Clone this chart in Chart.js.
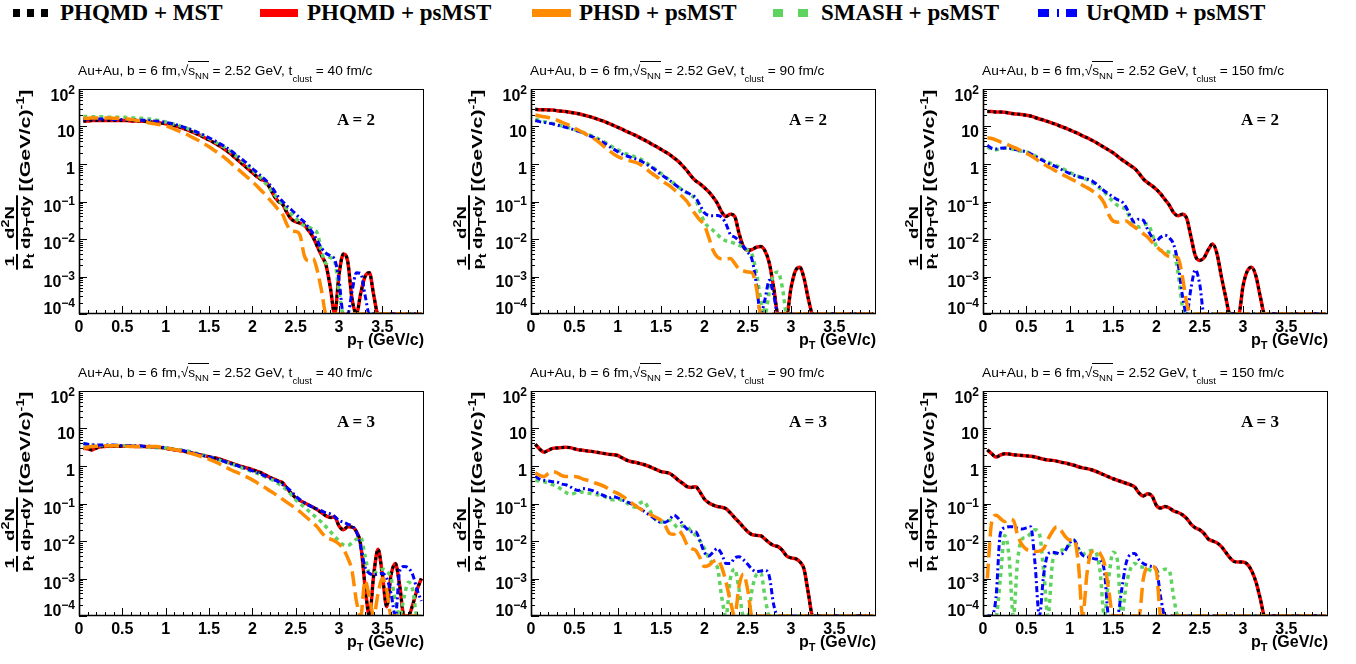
<!DOCTYPE html>
<html>
<head>
<meta charset="utf-8">
<title>Light nuclei pT spectra</title>
<script src="https://cdn.jsdelivr.net/npm/chart.js@4.4.0/dist/chart.umd.min.js"></script>
<style>
  body { margin: 0; width: 1356px; height: 664px; background: #fff; position: relative; overflow: hidden; color: #000; }
  canvas { position: absolute; }
  .mk { position: absolute; top: 9px; height: 8px; }
  .lt { position: absolute; top: 1px; font: bold 23px/23px "Liberation Serif", "Times New Roman", serif; white-space: nowrap; }
  .title { position: absolute; font: 13.7px/13px "Liberation Sans", Arial, sans-serif; white-space: nowrap; }
  .title sub { font-size: 9.5px; line-height: 0; }
  .title .nn { vertical-align: -4px; }
  .title .cl { vertical-align: -7px; }
  .title .ov { border-top: 1px solid #000; padding-top: 1px; }
  .alabel { position: absolute; font: bold 17px/17px "Liberation Serif", "Times New Roman", serif; white-space: nowrap; }
  .xtitle { position: absolute; font: bold 16px/16px "Liberation Sans", Arial, sans-serif; white-space: nowrap; text-align: right; }
  .xtitle sub { font-size: 11px; line-height: 0; vertical-align: -4px; }
  .ytitle { position: absolute; width: 157px; height: 40px; display: flex; justify-content: flex-end; align-items: center;
            transform-origin: 0 0; transform: rotate(-90deg) scaleX(1.43); font: bold 15px/15px "Liberation Sans", Arial, sans-serif; white-space: nowrap; }
  .ytitle sub, .ytitle sup { font-size: 10px; line-height: 0; }
  .frac { display: inline-flex; flex-direction: column; align-items: center; margin-right: 3px; font-size: 13px; line-height: 13px; }
  .frac .den { border-top: 2px solid #000; padding-top: 1px; }
  .unit { position: relative; top: 7px; }
</style>
</head>
<body>
<div id="legend">
  <div class="mk" style="left:13px;width:35px;background:repeating-linear-gradient(90deg,#000 0 7px,transparent 7px 14px)"></div>
  <div class="lt" style="left:60px">PHQMD + MST</div>
  <div class="mk" style="left:260px;width:38px;background:#ff0000"></div>
  <div class="lt" style="left:307px">PHQMD + psMST</div>
  <div class="mk" style="left:532px;width:39px;background:#ff8c00"></div>
  <div class="lt" style="left:579px">PHSD + psMST</div>
  <div class="mk" style="left:773px;width:35px;background:repeating-linear-gradient(90deg,#5fd35f 0 10px,transparent 10px 25px)"></div>
  <div class="lt" style="left:821px">SMASH + psMST</div>
  <div class="mk" style="left:1038px;width:39px;background:linear-gradient(90deg,#0000ff 0 11px,transparent 11px 19px,#0000ff 19px 21px,transparent 21px 28px,#0000ff 28px 39px)"></div>
  <div class="lt" style="left:1086px">UrQMD + psMST</div>
</div>
<script>
// pT bin centres in GeV/c
const pt = [
  0.05,0.1,0.15,0.2,0.25,0.3,0.35,0.4,0.45,0.5,
  0.55,0.6,0.65,0.7,0.75,0.8,0.85,0.9,0.95,1.0,
  1.05,1.1,1.15,1.2,1.25,1.3,1.35,1.4,1.45,1.5,
  1.55,1.6,1.65,1.7,1.75,1.8,1.85,1.9,1.95,2.0,
  2.05,2.1,2.15,2.2,2.25,2.3,2.35,2.4,2.45,2.5,
  2.55,2.6,2.65,2.7,2.75,2.8,2.85,2.9,2.95,3.0,
  3.05,3.1,3.15,3.2,3.25,3.3,3.35,3.4,3.45,3.5,
  3.55,3.6,3.65,3.7,3.75,3.8,3.85,3.9,3.95
];

// log10 of 1/pt d2N/dpT dy per bin; null = empty bin
// A = 2, t_clust = 40 fm/c
const lgPhqmdA2t40 = [
  1.15,1.15,1.16,1.16,1.16,1.16,1.16,1.16,1.16,1.16,
  1.16,1.15,1.15,1.14,1.14,1.13,1.12,1.11,1.09,1.07,
  1.05,1.02,0.99,0.95,0.91,0.86,0.81,0.76,0.70,0.64,
  0.58,0.51,0.44,0.36,0.27,0.17,0.07,-0.03,-0.13,-0.23,
  -0.33,-0.41,-0.46,-0.63,-0.85,-1.0,-1.08,-1.3,-1.47,-1.54,
  -1.58,-1.63,-1.78,-1.95,-2.2,-2.45,-2.7,-3.3,null,-2.95,
  -2.4,-2.6,-3.6,null,-3.45,-3.0,-2.9,-3.5,null,null,
  null,null,null,null,null,null,null,null,null
];
const lgSmashA2t40 = [
  1.27,1.27,1.26,1.26,1.26,1.26,1.25,1.25,1.25,1.25,
  1.24,1.23,1.23,1.22,1.21,1.2,1.19,1.17,1.15,1.12,
  1.09,1.06,1.03,0.99,0.95,0.9,0.85,0.8,0.74,0.68,
  0.62,0.55,0.48,0.41,0.33,0.24,0.15,0.05,-0.05,-0.15,
  -0.26,-0.38,-0.51,-0.65,-0.8,-0.95,-1.08,-1.2,-1.33,-1.45,
  -1.55,-1.65,-1.68,-1.75,-1.85,-2.35,-2.65,-2.5,-2.6,-3.4,
  null,null,null,null,null,null,null,null,null,null,
  null,null,null,null,null,null,null,null,null
];
const lgUrqmdA2t40 = [
  1.2,1.2,1.2,1.2,1.2,1.2,1.2,1.19,1.19,1.19,
  1.19,1.18,1.18,1.17,1.17,1.16,1.15,1.14,1.13,1.11,
  1.09,1.06,1.03,0.99,0.95,0.91,0.86,0.81,0.76,0.7,
  0.64,0.58,0.51,0.44,0.36,0.27,0.18,0.09,-0.01,-0.12,
  -0.22,-0.32,-0.42,-0.55,-0.7,-0.88,-1.0,-1.12,-1.22,-1.33,
  -1.45,-1.55,-1.7,-1.85,-2.05,-2.25,-2.38,-2.45,-2.55,-3.1,
  null,null,-3.4,-2.9,-2.92,-3.5,null,null,null,null,
  null,null,null,null,null,null,null,null,null
];
const lgPhsdA2t40 = [
  1.22,1.22,1.23,1.23,1.23,1.23,1.23,1.22,1.22,1.21,
  1.2,1.19,1.17,1.15,1.13,1.1,1.08,1.06,1.04,1.02,
  0.98,0.93,0.88,0.83,0.78,0.72,0.66,0.6,0.53,0.46,
  0.38,0.3,0.22,0.13,0.03,-0.08,-0.17,-0.27,-0.37,-0.47,
  -0.58,-0.7,-0.82,-0.95,-1.08,-1.22,-1.35,-1.62,-1.78,-1.8,
  -1.9,-2.45,-2.58,-2.52,-2.85,-3.4,null,null,null,null,
  null,null,null,null,null,null,null,null,null,null,
  null,null,null,null,null,null,null,null,null
];

// A = 2, t_clust = 90 fm/c
const lgPhqmdA2t90 = [
  1.46,1.45,1.45,1.44,1.44,1.42,1.41,1.4,1.38,1.36,
  1.34,1.31,1.28,1.25,1.21,1.17,1.13,1.08,1.03,0.98,
  0.93,0.87,0.82,0.77,0.71,0.65,0.59,0.52,0.46,0.39,
  0.32,0.25,0.16,0.07,-0.05,-0.18,-0.33,-0.45,-0.53,-0.63,
  -0.74,-0.88,-1.05,-1.28,-1.4,-1.34,-1.4,-1.85,-2.2,-2.3,
  -2.28,-2.22,-2.2,-2.32,-2.65,-3.3,null,null,null,-3.3,
  -2.85,-2.75,-3.05,-3.6,null,null,null,null,null,null,
  null,null,null,null,null,null,null,null,null
];
const lgSmashA2t90 = [
  1.2,1.16,1.13,1.11,1.08,1.05,1.02,0.99,0.96,0.92,
  0.88,0.84,0.8,0.75,0.7,0.64,0.58,0.51,0.44,0.38,
  0.32,0.27,0.23,0.19,0.15,0.08,0.0,-0.08,-0.16,-0.25,
  -0.34,-0.43,-0.52,-0.61,-0.7,-0.77,-0.84,-0.95,-1.25,-1.55,
  -1.68,-1.77,-1.88,-1.99,-2.05,-2.08,-2.12,-2.17,-2.22,-2.3,
  -2.42,-2.9,-3.6,null,-3.4,-2.95,-2.88,-3.3,null,null,
  null,null,null,null,null,null,null,null,null,null,
  null,null,null,null,null,null,null,null,null
];
const lgUrqmdA2t90 = [
  1.16,1.13,1.11,1.09,1.07,1.04,1.01,0.98,0.95,0.91,
  0.87,0.83,0.78,0.73,0.68,0.62,0.55,0.47,0.4,0.33,
  0.27,0.22,0.18,0.14,0.1,0.04,-0.03,-0.1,-0.19,-0.28,
  -0.36,-0.44,-0.53,-0.62,-0.7,-0.76,-0.82,-0.9,-1.1,-1.3,
  -1.37,-1.38,-1.37,-1.42,-1.6,-1.88,-1.95,-2.05,-2.2,-2.35,
  -2.55,-3.2,null,-3.6,-3.1,-3.5,null,null,null,null,
  null,null,null,null,null,null,null,null,null,null,
  null,null,null,null,null,null,null,null,null
];
const lgPhsdA2t90 = [
  1.31,1.28,1.26,1.24,1.21,1.17,1.12,1.07,1.02,0.96,
  0.9,0.84,0.77,0.71,0.64,0.55,0.45,0.36,0.27,0.2,
  0.15,0.11,0.08,0.05,0.0,-0.08,-0.17,-0.26,-0.34,-0.43,
  -0.51,-0.58,-0.68,-0.78,-0.88,-1.0,-1.18,-1.35,-1.5,-1.63,
  -1.95,-2.3,-2.48,-2.53,-2.53,-2.52,-2.65,-2.8,-2.85,-2.88,
  -2.9,-3.3,null,null,null,null,null,null,null,null,
  null,null,null,null,null,null,null,null,null,null,
  null,null,null,null,null,null,null,null,null
];

// A = 2, t_clust = 150 fm/c
const lgPhqmdA2t150 = [
  1.4,1.4,1.39,1.39,1.38,1.36,1.34,1.33,1.32,1.3,
  1.28,1.24,1.2,1.17,1.13,1.09,1.05,1.0,0.96,0.91,
  0.86,0.81,0.75,0.7,0.64,0.58,0.51,0.44,0.37,0.3,
  0.21,0.12,0.04,-0.04,-0.12,-0.25,-0.4,-0.5,-0.58,-0.68,
  -0.8,-0.95,-1.1,-1.3,-1.38,-1.34,-1.45,-1.95,-2.45,-2.57,
  -2.5,-2.28,-2.13,-2.4,-3.0,-3.55,null,null,null,-3.25,
  -2.85,-2.75,-3.0,-3.55,null,null,null,null,null,null,
  null,null,null,null,null,null,null,null,null
];
const lgSmashA2t150 = [
  0.45,0.4,0.38,0.4,0.42,0.41,0.39,0.36,0.34,0.32,
  0.28,0.22,0.16,0.1,0.05,0.0,-0.05,-0.1,-0.16,-0.22,
  -0.28,-0.33,-0.37,-0.42,-0.48,-0.56,-0.65,-0.75,-0.88,-1.0,
  -1.1,-1.15,-1.22,-1.45,-1.6,-1.68,-1.62,-1.6,-1.85,-2.2,
  -2.3,-2.32,-2.35,-2.4,-2.9,-3.8,null,null,null,null,
  null,null,null,null,null,null,null,null,null,null,
  null,null,null,null,null,null,null,null,null,null,
  null,null,null,null,null,null,null,null,null
];
const lgUrqmdA2t150 = [
  0.5,0.42,0.4,0.42,0.43,0.42,0.4,0.37,0.35,0.32,
  0.27,0.21,0.14,0.08,0.02,-0.03,-0.08,-0.14,-0.2,-0.25,
  -0.3,-0.34,-0.37,-0.4,-0.44,-0.52,-0.62,-0.72,-0.8,-0.88,
  -0.95,-1.0,-1.15,-1.4,-1.55,-1.47,-1.5,-1.75,-1.95,-2.05,
  -1.95,-1.9,-1.97,-2.15,-2.65,-3.5,null,-3.3,-2.82,-3.2,
  null,null,null,null,null,null,null,null,null,null,
  null,null,null,null,null,null,null,null,null,null,
  null,null,null,null,null,null,null,null,null
];
const lgPhsdA2t150 = [
  0.7,0.68,0.64,0.59,0.55,0.5,0.45,0.4,0.34,0.29,
  0.22,0.15,0.07,0.0,-0.07,-0.13,-0.2,-0.26,-0.32,-0.38,
  -0.44,-0.5,-0.57,-0.63,-0.7,-0.78,-0.88,-1.05,-1.35,-1.52,
  -1.55,-1.53,-1.52,-1.6,-1.68,-1.77,-1.86,-1.95,-2.08,-2.2,
  -2.3,-2.4,-2.47,-2.48,-2.5,-3.0,-3.7,null,null,null,
  null,null,null,null,null,null,null,null,null,null,
  null,null,null,null,null,null,null,null,null,null,
  null,null,null,null,null,null,null,null,null
];

// A = 3, t_clust = 40 fm/c
const lgPhqmdA3t40 = [
  0.47,0.46,0.43,0.48,0.51,0.52,0.53,0.53,0.53,0.53,
  0.53,0.53,0.52,0.52,0.52,0.51,0.51,0.5,0.49,0.47,
  0.45,0.43,0.41,0.4,0.37,0.35,0.32,0.3,0.27,0.25,
  0.22,0.2,0.16,0.12,0.08,0.04,0.0,-0.03,-0.06,-0.1,
  -0.14,-0.18,-0.24,-0.3,-0.35,-0.4,-0.45,-0.6,-0.73,-0.85,
  -0.92,-0.98,-1.04,-1.1,-1.17,-1.25,-1.33,-1.37,-1.36,-1.6,
  -1.7,-1.62,-1.63,-1.75,-2.1,-3.2,null,-2.9,-2.22,-2.9,
  -3.75,-2.9,-2.6,-3.2,null,null,-3.7,-3.3,-3.0
];
const lgSmashA3t40 = [
  0.6,0.57,0.55,0.55,0.55,0.55,0.55,0.55,0.55,0.54,
  0.54,0.53,0.53,0.52,0.52,0.5,0.5,0.49,0.49,0.48,
  0.47,0.45,0.44,0.42,0.4,0.37,0.34,0.31,0.28,0.24,
  0.21,0.17,0.14,0.1,0.06,0.02,-0.03,-0.07,-0.11,-0.15,
  -0.19,-0.24,-0.29,-0.34,-0.4,-0.47,-0.55,-0.65,-0.77,-0.9,
  -1.0,-1.1,-1.2,-1.3,-1.4,-1.5,-1.62,-1.75,-1.88,-2.0,
  -2.1,-2.12,-2.05,-1.95,-1.9,-2.4,-2.85,-2.85,-2.8,-2.75,
  -2.8,-3.0,-3.6,null,-3.5,-3.1,-3.3,null,null
];
const lgUrqmdA3t40 = [
  0.6,0.58,0.57,0.56,0.56,0.56,0.56,0.56,0.55,0.55,
  0.55,0.55,0.54,0.54,0.53,0.53,0.52,0.51,0.5,0.49,
  0.47,0.45,0.43,0.41,0.39,0.36,0.33,0.3,0.27,0.24,
  0.21,0.18,0.14,0.1,0.06,0.03,-0.01,-0.05,-0.09,-0.13,
  -0.17,-0.22,-0.27,-0.32,-0.37,-0.42,-0.5,-0.58,-0.68,-0.8,
  -0.9,-0.98,-1.05,-1.1,-1.15,-1.2,-1.25,-1.28,-1.35,-1.45,
  -1.5,-1.55,-1.6,-1.75,-2.15,-2.7,-2.86,-2.9,-2.88,-2.86,
  -3.0,-3.4,null,-2.8,-2.68,-2.72,-2.9,-3.3,-3.6
];
const lgPhsdA3t40 = [
  0.47,0.5,0.52,0.53,0.53,0.54,0.54,0.54,0.54,0.53,
  0.53,0.52,0.52,0.52,0.52,0.52,0.52,0.52,0.5,0.48,
  0.46,0.44,0.42,0.39,0.36,0.33,0.3,0.26,0.22,0.18,
  0.13,0.08,0.02,-0.04,-0.1,-0.15,-0.2,-0.26,-0.31,-0.37,
  -0.44,-0.51,-0.58,-0.66,-0.73,-0.81,-0.89,-0.97,-1.05,-1.13,
  -1.22,-1.32,-1.42,-1.52,-1.63,-1.78,-1.9,-1.95,-2.0,-2.08,
  -2.22,-2.45,-2.8,-3.6,null,-3.05,-3.5,null,-3.4,-3.0,
  -3.3,null,null,null,null,null,null,null,null
];

// A = 3, t_clust = 90 fm/c
const lgPhqmdA3t90 = [
  0.58,0.45,0.37,0.42,0.47,0.48,0.49,0.5,0.49,0.46,
  0.43,0.42,0.4,0.39,0.37,0.35,0.33,0.31,0.3,0.28,
  0.22,0.16,0.12,0.1,0.07,0.04,0.0,-0.05,-0.1,-0.15,
  -0.17,-0.2,-0.28,-0.38,-0.46,-0.55,-0.57,-0.55,-0.7,-0.88,
  -0.98,-1.04,-1.08,-1.1,-1.14,-1.25,-1.38,-1.5,-1.63,-1.75,
  -1.83,-1.85,-1.86,-1.95,-2.05,-2.12,-2.15,-2.25,-2.4,-2.45,
  -2.47,-2.55,-2.75,-3.4,null,null,null,null,null,null,
  null,null,null,null,null,null,null,null,null
];
const lgSmashA3t90 = [
  -0.38,-0.4,-0.42,-0.45,-0.5,-0.55,-0.62,-0.7,-0.75,-0.73,
  -0.68,-0.7,-0.72,-0.74,-0.76,-0.78,-0.82,-0.88,-0.9,-0.88,
  -0.92,-0.98,-1.05,-1.1,-1.0,-0.95,-1.1,-1.3,-1.45,-1.5,
  -1.45,-1.45,-1.55,-1.65,-1.6,-1.62,-1.75,-1.85,-2.0,-2.2,
  -2.45,-2.6,-2.7,-3.5,null,-3.0,-2.75,-3.3,null,null,
  -3.3,-2.9,-2.85,-3.5,null,null,null,null,null,null,
  null,null,null,null,null,null,null,null,null,null,
  null,null,null,null,null,null,null,null,null
];
const lgUrqmdA3t90 = [
  -0.27,-0.35,-0.38,-0.4,-0.42,-0.43,-0.48,-0.5,-0.55,-0.62,
  -0.65,-0.6,-0.62,-0.65,-0.7,-0.75,-0.8,-0.85,-0.82,-0.85,
  -0.9,-0.95,-1.0,-1.05,-1.12,-1.2,-1.28,-1.36,-1.45,-1.5,
  -1.5,-1.42,-1.31,-1.4,-1.55,-1.68,-1.75,-1.75,-2.0,-2.3,
  -2.4,-2.3,-2.2,-2.35,-2.6,-2.6,-2.45,-2.42,-2.5,-2.62,
  -2.75,-2.82,-2.8,-2.78,-2.95,-3.7,null,null,null,null,
  null,null,null,null,null,null,null,null,null,null,
  null,null,null,null,null,null,null,null,null
];
const lgPhsdA3t90 = [
  -0.18,-0.25,-0.28,-0.2,-0.15,-0.18,-0.25,-0.28,-0.28,-0.28,
  -0.3,-0.35,-0.38,-0.42,-0.46,-0.5,-0.55,-0.62,-0.68,-0.73,
  -0.8,-0.88,-0.97,-1.05,-1.13,-1.2,-1.26,-1.32,-1.38,-1.45,
  -1.6,-1.8,-1.82,-1.72,-1.85,-2.1,-2.2,-2.25,-2.45,-2.68,
  -2.65,-2.55,-2.5,-2.7,-3.1,-3.6,null,-3.2,-2.88,-3.3,
  null,null,null,null,null,null,null,null,null,null,
  null,null,null,null,null,null,null,null,null,null,
  null,null,null,null,null,null,null,null,null
];

// A = 3, t_clust = 150 fm/c
const lgPhqmdA3t150 = [
  0.43,0.33,0.24,0.29,0.33,0.32,0.3,0.29,0.28,0.27,
  0.26,0.24,0.21,0.18,0.16,0.15,0.13,0.1,0.08,0.05,
  0.02,-0.02,-0.05,-0.07,-0.1,-0.14,-0.19,-0.24,-0.29,-0.34,
  -0.38,-0.42,-0.46,-0.5,-0.56,-0.72,-0.8,-0.74,-0.8,-1.05,
  -1.12,-1.08,-1.12,-1.2,-1.24,-1.3,-1.4,-1.55,-1.65,-1.7,
  -1.8,-1.95,-2.0,-2.05,-2.15,-2.3,-2.45,-2.55,-2.56,-2.56,
  -2.62,-2.8,-3.1,-3.55,null,null,null,null,null,null,
  null,null,null,null,null,null,null,null,null
];
const lgSmashA3t150 = [
  null,null,null,-3.0,-1.85,-2.4,null,-2.5,-1.95,-1.9,
  -1.8,-1.7,-1.8,-2.8,null,-2.6,-2.3,-2.25,-2.2,-2.1,
  -2.0,-2.2,-2.35,-2.3,-2.25,-2.3,-2.8,null,-3.0,-2.3,
  -2.5,null,-3.2,-2.75,-2.6,-2.68,-2.7,-2.75,-2.8,-2.82,
  -2.8,-2.75,-2.8,-3.5,null,null,null,null,null,null,
  null,null,null,null,null,null,null,null,null,null,
  null,null,null,null,null,null,null,null,null,null,
  null,null,null,null,null,null,null,null,null
];
const lgUrqmdA3t150 = [
  null,null,-3.5,-1.8,-1.65,-1.62,-1.62,-1.66,-1.68,-1.65,
  -1.62,-2.6,null,-2.9,-2.35,-2.3,-2.32,-2.35,-2.25,-2.05,
  -1.97,-2.2,-2.38,-2.42,-2.45,-2.48,-2.5,-2.8,null,null,
  null,-3.3,-2.6,-2.36,-2.33,-2.5,-2.6,-2.65,-2.68,-2.75,
  -3.5,null,null,null,null,null,null,null,null,null,
  null,null,null,null,null,null,null,null,null,null,
  null,null,null,null,null,null,null,null,null,null,
  null,null,null,null,null,null,null,null,null
];
const lgPhsdA3t150 = [
  -3.0,-1.5,-1.31,-1.4,-1.48,-1.42,-1.45,-1.85,-2.1,-2.22,
  -2.26,-2.28,-2.27,-2.2,-1.95,-1.75,-1.62,-1.72,-1.88,-1.97,
  -1.96,-2.6,null,-2.86,-2.3,-2.26,-2.33,-2.6,-3.3,null,
  null,null,null,null,null,null,-3.0,-2.7,-2.68,-2.8,
  null,null,null,null,null,null,null,null,null,null,
  null,null,null,null,null,null,null,null,null,null,
  null,null,null,null,null,null,null,null,null,null,
  null,null,null,null,null,null,null,null,null
];

const yDecades = [-4, -3, -2, -1, 0, 1, 2];
const yMin = 1e-4, yMax = 1e2;
const xMin = 0, xMax = 3.98;

const panels = [
  { col: 0, row: 0, A: 2, tclust: 40,  phqmd: lgPhqmdA2t40,  phsd: lgPhsdA2t40,  smash: lgSmashA2t40,  urqmd: lgUrqmdA2t40 },
  { col: 1, row: 0, A: 2, tclust: 90,  phqmd: lgPhqmdA2t90,  phsd: lgPhsdA2t90,  smash: lgSmashA2t90,  urqmd: lgUrqmdA2t90 },
  { col: 2, row: 0, A: 2, tclust: 150, phqmd: lgPhqmdA2t150, phsd: lgPhsdA2t150, smash: lgSmashA2t150, urqmd: lgUrqmdA2t150 },
  { col: 0, row: 1, A: 3, tclust: 40,  phqmd: lgPhqmdA3t40,  phsd: lgPhsdA3t40,  smash: lgSmashA3t40,  urqmd: lgUrqmdA3t40 },
  { col: 1, row: 1, A: 3, tclust: 90,  phqmd: lgPhqmdA3t90,  phsd: lgPhsdA3t90,  smash: lgSmashA3t90,  urqmd: lgUrqmdA3t90 },
  { col: 2, row: 1, A: 3, tclust: 150, phqmd: lgPhqmdA3t150, phsd: lgPhsdA3t150, smash: lgSmashA3t150, urqmd: lgUrqmdA3t150 }
];

// frame geometry (page pixels)
const colLeft = [79, 531, 983];
const rowTop = [89, 391];
const plotW = 345, plotH = 225;
const padTop = 10, padRight = 10, axisW = 79, axisH = 40;

const SANS = '"Liberation Sans", Arial, sans-serif';

function points(lg) {
  return pt.map((x, i) => ({ x, y: lg[i] === null ? yMin : Math.pow(10, lg[i]) }));
}

// ROOT-like frame: box, inward ticks, 10^n labels
const rootFrame = {
  id: 'rootFrame',
  afterDraw(chart) {
    const { ctx, chartArea: a } = chart;
    const xs = chart.scales.x, ys = chart.scales.y;
    ctx.save();
    ctx.strokeStyle = '#000';
    ctx.lineWidth = 1;
    ctx.strokeRect(a.left + 0.5, a.top + 0.5, a.right - a.left - 1, a.bottom - a.top - 1);
    ctx.lineWidth = 1.6;
    ctx.beginPath();
    ctx.moveTo(a.left + 0.5, a.top);
    ctx.lineTo(a.left + 0.5, a.bottom - 0.5);
    ctx.lineTo(a.right, a.bottom - 0.5);
    ctx.stroke();

    ctx.lineWidth = 1;
    ctx.beginPath();
    for (let i = 0; i <= 39; i++) {
      const px = Math.round(xs.getPixelForValue(i / 10)) + 0.5;
      const len = i % 5 === 0 ? 8 : 4;
      ctx.moveTo(px, a.bottom);
      ctx.lineTo(px, a.bottom - len);
    }
    for (let e = -4; e <= 2; e++) {
      for (let m = 1; m <= 9; m++) {
        if (e === 2 && m > 1) break;
        const py = Math.round(ys.getPixelForValue(m * Math.pow(10, e))) + 0.5;
        const len = m === 1 ? 8 : 4;
        ctx.moveTo(a.left, py);
        ctx.lineTo(a.left + len, py);
      }
    }
    ctx.stroke();

    ctx.fillStyle = '#000';
    ctx.textBaseline = 'alphabetic';
    ctx.textAlign = 'left';
    const right = a.left - 4;
    yDecades.forEach(e => {
      const main = e === 0 ? '1' : '10';
      const sup = (e === 0 || e === 1) ? '' : (e < 0 ? '\u2212' + (-e) : String(e));
      const tick = ys.getPixelForValue(Math.pow(10, e));
      let base = tick + 10;
      base = Math.max(base, a.top + 11.5);
      base = Math.min(base, a.bottom);
      ctx.font = 'bold 12px ' + SANS;
      const ws = sup ? ctx.measureText(sup).width : 0;
      ctx.font = 'bold 16px ' + SANS;
      const wm = ctx.measureText(main).width;
      ctx.fillText(main, right - ws - wm, base);
      if (sup) {
        ctx.font = 'bold 12px ' + SANS;
        ctx.fillText(sup, right - ws, base - 7);
      }
    });
    ctx.restore();
  }
};

function place(html, cls, left, top) {
  const d = document.createElement('div');
  d.className = cls;
  d.innerHTML = html;
  d.style.left = left + 'px';
  d.style.top = top + 'px';
  document.body.appendChild(d);
  return d;
}

panels.forEach(p => {
  const L = colLeft[p.col], T = rowTop[p.row];

  const cv = document.createElement('canvas');
  cv.width = axisW + plotW + padRight;
  cv.height = padTop + plotH + axisH;
  cv.style.left = (L - axisW) + 'px';
  cv.style.top = (T - padTop) + 'px';
  document.body.appendChild(cv);

  new Chart(cv, {
    type: 'line',
    data: {
      datasets: [
        { label: 'PHSD + psMST', data: points(p.phsd), borderColor: '#ff8c00', borderDash: [15, 6], borderWidth: 3.5, order: 0 },
        { label: 'UrQMD + psMST', data: points(p.urqmd), borderColor: '#0000ff', borderDash: [6, 3, 2, 3], borderWidth: 3, order: 1 },
        { label: 'SMASH + psMST', data: points(p.smash), borderColor: '#5fd35f', borderDash: [4, 4], borderWidth: 3.5, order: 2 },
        { label: 'PHQMD + MST', data: points(p.phqmd), borderColor: '#000000', borderDash: [3, 3], borderWidth: 3, order: 3 },
        { label: 'PHQMD + psMST', data: points(p.phqmd), borderColor: '#ff0000', borderWidth: 3.5, order: 4 }
      ]
    },
    options: {
      responsive: false,
      animation: false,
      events: [],
      layout: { padding: { top: padTop, right: padRight, left: 0, bottom: 0 } },
      elements: {
        point: { radius: 0 },
        line: { cubicInterpolationMode: 'monotone', fill: false }
      },
      plugins: { legend: { display: false }, tooltip: { enabled: false } },
      scales: {
        x: {
          type: 'linear', min: xMin, max: xMax,
          afterFit: s => { s.height = axisH; },
          grid: { display: false, drawTicks: false },
          border: { display: false },
          ticks: {
            stepSize: 0.5, includeBounds: false, autoSkip: false, maxRotation: 0, padding: 4,
            color: '#000', font: { family: SANS, size: 16, weight: 'bold' },
            callback: v => String(Math.round(v * 10) / 10)
          }
        },
        y: {
          type: 'logarithmic', min: yMin, max: yMax,
          afterFit: s => { s.width = axisW; },
          grid: { display: false, drawTicks: false },
          border: { display: false },
          ticks: { display: false }
        }
      }
    },
    plugins: [rootFrame]
  });

  place('Au+Au, b = 6 fm,\u221A<span class="ov">s<sub class="nn">NN</sub></span> = 2.52 GeV, t<sub class="cl">clust</sub> = ' + p.tclust + ' fm/c',
        'title', L - 1, T - 25);
  place('A = ' + p.A, 'alabel', L + 258, T + 22);
  const xt = place('p<sub>T</sub> (GeV/c)', 'xtitle', 0, T + plotH + 18);
  xt.style.left = 'auto';
  xt.style.right = (1356 - (L + plotW)) + 'px';
  place('<span class="frac"><span>1</span><span class="den">p<sub>t</sub></span></span>' +
        '<span class="frac"><span>d<sup>2</sup>N</span><span class="den">dp<sub>T</sub>dy</span></span>' +
        '<span class="unit">[(GeV/c)<sup>-1</sup>]</span>',
        'ytitle', L - 82, T + plotH);
});
</script>
</body>
</html>
